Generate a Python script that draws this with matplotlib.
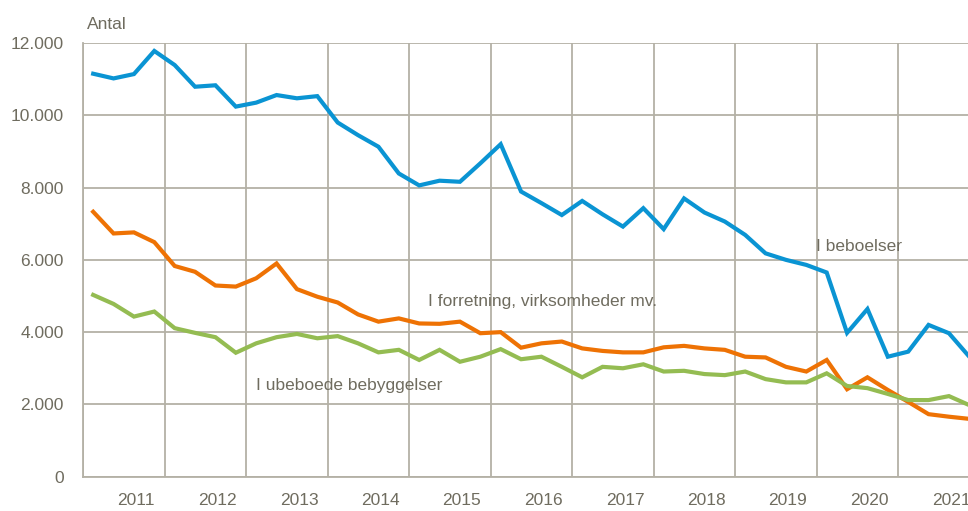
"""Antal fordelt på type af bebyggelse, kvartalsvis 2011-2021."""
import numpy as np
import matplotlib
matplotlib.use('Agg')
from matplotlib import pyplot as plt
from matplotlib.ticker import FuncFormatter, MultipleLocator, FixedLocator


#
# Data (kvartaler, 2011K1 - 2021K4)
#
years = list(range(2011, 2022))

beboelser = [11150, 11020, 11140, 11780,
             11390, 10790, 10830, 10240,
             10350, 10560, 10470, 10530,
             9800, 9450, 9130, 8390,
             8060, 8190, 8160, 8670,
             9200, 7890, 7570, 7240,
             7630, 7260, 6920, 7430,
             6850, 7700, 7310, 7060,
             6690, 6180, 6000, 5860,
             5650, 3980, 4640, 3320,
             3460, 4200, 3970, 3320]

forretning = [7330, 6730, 6760, 6490,
              5830, 5670, 5290, 5260,
              5490, 5900, 5190, 4980,
              4820, 4490, 4290, 4380,
              4240, 4230, 4290, 3970,
              4000, 3570, 3690, 3740,
              3550, 3480, 3440, 3440,
              3580, 3620, 3550, 3510,
              3320, 3300, 3040, 2910,
              3230, 2420, 2750, 2400,
              2070, 1730, 1660, 1600]

ubeboede = [5030, 4780, 4430, 4570,
            4110, 3980, 3860, 3430,
            3690, 3860, 3950, 3830,
            3890, 3690, 3440, 3510,
            3230, 3510, 3180, 3320,
            3530, 3250, 3320, 3040,
            2750, 3040, 3000, 3110,
            2910, 2930, 2840, 2810,
            2910, 2700, 2610, 2610,
            2860, 2510, 2450, 2290,
            2120, 2120, 2230, 1980]

series = [('I beboelser', beboelser, '#0A94D3'),
          ('I forretning, virksomheder mv.', forretning, '#EE7204'),
          ('I ubeboede bebyggelser', ubeboede, '#94BC52')]

# Quarter positions in the middle of each quarter
quarters = np.array([y + (q + 0.5) / 4 for y in years for q in range(4)])

text_col = '#6F6C5F'
grid_col = '#B4B1A6'

plt.rcParams['font.family'] = ['Liberation Sans', 'DejaVu Sans']


#
# Plot
#
fig = plt.figure(figsize=(9.68, 5.11), dpi=100)
ax = fig.add_axes([83 / 968, 34.3 / 511, 885 / 968, 433.7 / 511])

for name, values, colour in series:
    ax.plot(quarters, values, '-', lw=3.0, color=colour,
            solid_joinstyle='miter', label=name)

ax.set_xlim(2011, 2011 + 885 / 81.5)
ax.set_ylim(0, 12000)

ax.yaxis.set_major_locator(MultipleLocator(2000))
ax.yaxis.set_major_formatter(
    FuncFormatter(lambda v, p: '{:,.0f}'.format(v).replace(',', '.')))
ax.xaxis.set_major_locator(FixedLocator(years))
ax.xaxis.set_major_formatter(FuncFormatter(lambda v, p: ''))
ax.xaxis.set_minor_locator(FixedLocator([y + 0.65 for y in years]))
ax.xaxis.set_minor_formatter(FuncFormatter(lambda v, p: '%d' % int(v)))

ax.grid(True, which='major', color=grid_col, lw=1.3)
ax.set_axisbelow(True)
for side in ['top', 'right']:
    ax.spines[side].set_visible(False)
for side in ['left', 'bottom']:
    ax.spines[side].set_color(grid_col)
    ax.spines[side].set_linewidth(1.3)

ax.tick_params(axis='both', which='both', length=0, colors=text_col,
               labelsize=12.5)
ax.tick_params(axis='y', pad=14)
ax.tick_params(axis='x', which='minor', pad=12)

ax.text(0.005, 1.025, 'Antal', transform=ax.transAxes, color=text_col,
        fontsize=12.5, ha='left', va='bottom')

# Series labels
ax.text(2020.0, 6380, 'I beboelser', color=text_col, fontsize=12.5,
        ha='left', va='center')
ax.text(2015.23, 4840, 'I forretning, virksomheder mv.', color=text_col,
        fontsize=12.5, ha='left', va='center')
ax.text(2013.12, 2530, 'I ubeboede bebyggelser', color=text_col,
        fontsize=12.5, ha='left', va='center')

plt.savefig('out.png', dpi=100)
